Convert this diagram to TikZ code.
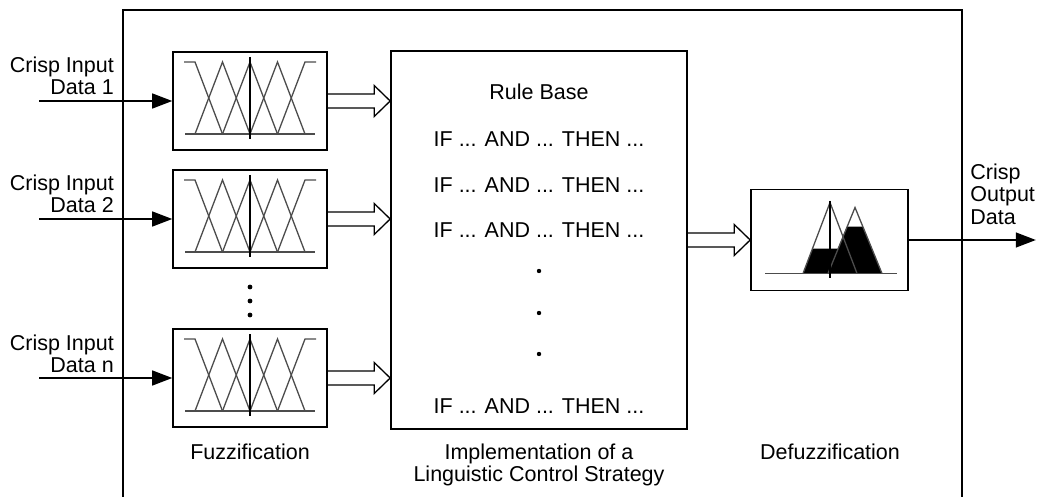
\documentclass[tikz,border=0pt]{standalone}
\usepackage{fontspec}
\setmainfont{Liberation Sans}
\usetikzlibrary{arrows.meta,calc}
\begin{document}
\begin{tikzpicture}[x=0.5pt,y=-0.5pt,
  every node/.style={font=\fontsize{10.75}{11}\selectfont,inner sep=0pt},
  block/.style={draw,line width=0.8pt,minimum width=77pt,minimum height=49pt},
  mf/.style={line width=0.65pt,black!70},
  feed/.style={line width=0.65pt,-{Triangle[length=10pt,width=7.5pt]}},
  hollow/.style={line width=0.65pt,to path={
    ($(\tikztostart)+(0,-7)$) -- ($(\tikztotarget)+(-16,-7)$) -- ($(\tikztotarget)+(-16,-15.5)$)
    -- (\tikztotarget) -- ($(\tikztotarget)+(-16,15.5)$) -- ($(\tikztotarget)+(-16,7)$) -- ($(\tikztostart)+(0,7)$)}},
  inlabel/.style={align=right,anchor=base east}]
\useasboundingbox (0,0) rectangle (1037,497);
% outer frame, open at the bottom
\draw[line width=0.7pt] (123,497) -- (123,10) -- (962,10) -- (962,497);
\node[block,minimum width=148pt,minimum height=189pt] (rule) at (539,240) {};
\node[block,minimum width=78.5pt,minimum height=50.5pt] (defuzz) at (829.5,240) {};
% fuzzification rows
\foreach \n/\y in {1/101,2/219,n/378}{
  \node[block] (fuzz\n) at (250,\y) {};
  \coordinate (in\n) at ([xshift=-66.5pt]fuzz\n.west);
  \node[inlabel] (lab\n) at ($(in\n)+(75,-6)$) {Crisp Input\\Data \n};
  \draw[feed] (in\n) -- (fuzz\n.west);
  \draw[hollow] (fuzz\n.east) to (fuzz\n.east -| rule.west);
  \begin{scope}[shift={(fuzz\n.center)},mf]
    \draw (-66,-39) -- (-55,-39) -- (-27.5,33);
    \foreach \p in {-27.5,0,27.5}
      \draw ({\p-27.5},33) -- (\p,-39) -- ({\p+27.5},33);
    \draw (27.5,33) -- (55,-39) -- (66,-39);
    \draw (-65,33) -- (65,33);
    \draw[line width=0.7pt,black] (0,-44) -- (0,38);
  \end{scope}
}
\foreach \d in {287,301,315} \fill (250,\d) circle (1.2pt);
% rule base
\node[anchor=base] (rulehead) at (539,100) {Rule Base};
\node[anchor=base] (if1) at (539,147) {IF ... AND ... THEN ...};
\node[anchor=base] (if2) at (539,192) {IF ... AND ... THEN ...};
\node[anchor=base] (if3) at (539,237) {IF ... AND ... THEN ...};
\foreach \d in {271,313,354} \fill (539,\d) circle (1.1pt);
\node[anchor=base] (iflast) at (539,413) {IF ... AND ... THEN ...};
\draw[hollow] (rule.east) to (defuzz.west);
% defuzzification
\begin{scope}[shift={(defuzz.center)}]
  \fill (-26.5,33.5) -- (-17,8.5) -- (8.5,8.5) -- (17.5,-13.5) -- (33.5,-13.5) -- (52.5,33.5) -- cycle;
  \draw[mf] (-26.5,33.5) -- (0.5,-37.5) -- (27.5,33.5);
  \draw[mf] (-1.5,33.5) -- (25.5,-32.5) -- (52.5,33.5);
  \draw[mf] (-64.5,33.5) -- (67.5,33.5);
  \draw[line width=0.7pt] (0.5,-38.5) -- (0.5,37.5);
\end{scope}
\coordinate (out) at ([xshift=63.5pt]defuzz.east);
\draw[feed] (defuzz.east) -- (out);
\node[anchor=base west,align=left] (outlab) at (970,224) {Crisp\\Output\\Data};
% captions
\node[anchor=base] (fuzzlab) at (250,459) {Fuzzification};
\node[anchor=base,align=center] (rulelab) at (539,481) {Implementation of a\\Linguistic Control Strategy};
\node[anchor=base] (defuzzlab) at (830,459) {Defuzzification};
\end{tikzpicture}
\end{document}
